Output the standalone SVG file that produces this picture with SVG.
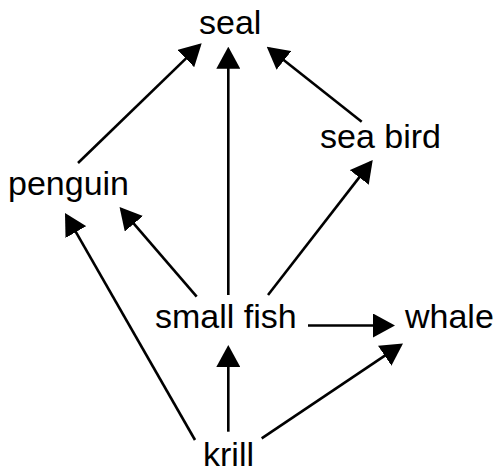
<svg xmlns="http://www.w3.org/2000/svg" width="499" height="472" viewBox="0 0 499 472">
<style>
  .lbl { font-family: "Liberation Sans", Arial, sans-serif; font-size: 34px; fill: #000; }
  .edge { stroke: #000; stroke-width: 2.6; fill: none; marker-end: url(#arrow); }
</style>
<defs>
  <marker id="arrow" viewBox="0 0 22 24" refX="19" refY="12" markerWidth="22" markerHeight="24" markerUnits="userSpaceOnUse" orient="auto">
    <path d="M0,0 L22,12 L0,24 Z" fill="#000"/>
  </marker>
</defs>
<rect width="499" height="472" fill="#fff"/>
<g id="connectors">
  <line class="edge" x1="78" y1="163" x2="199.5" y2="45.4"/>
  <line class="edge" x1="228.3" y1="295" x2="228.3" y2="49.7"/>
  <line class="edge" x1="361.7" y1="121.7" x2="269.1" y2="48.6"/>
  <line class="edge" x1="268" y1="295" x2="370.9" y2="162.4"/>
  <line class="edge" x1="196.7" y1="296.7" x2="121.5" y2="209.3"/>
  <line class="edge" x1="195" y1="440" x2="66.5" y2="215.6"/>
  <line class="edge" x1="228.3" y1="431.7" x2="228.3" y2="348"/>
  <line class="edge" x1="261.7" y1="438.3" x2="400.5" y2="345.2"/>
  <line class="edge" x1="308" y1="325.5" x2="392" y2="325.5"/>
</g>
<g id="node-seal"><text class="lbl" x="199" y="34">seal</text></g>
<g id="node-seabird"><text class="lbl" x="320" y="148">sea bird</text></g>
<g id="node-penguin"><text class="lbl" x="8" y="195">penguin</text></g>
<g id="node-smallfish"><text class="lbl" x="155" y="328">small fish</text></g>
<g id="node-whale"><text class="lbl" x="405" y="328">whale</text></g>
<g id="node-krill"><text class="lbl" x="203" y="466">krill</text></g>
</svg>
